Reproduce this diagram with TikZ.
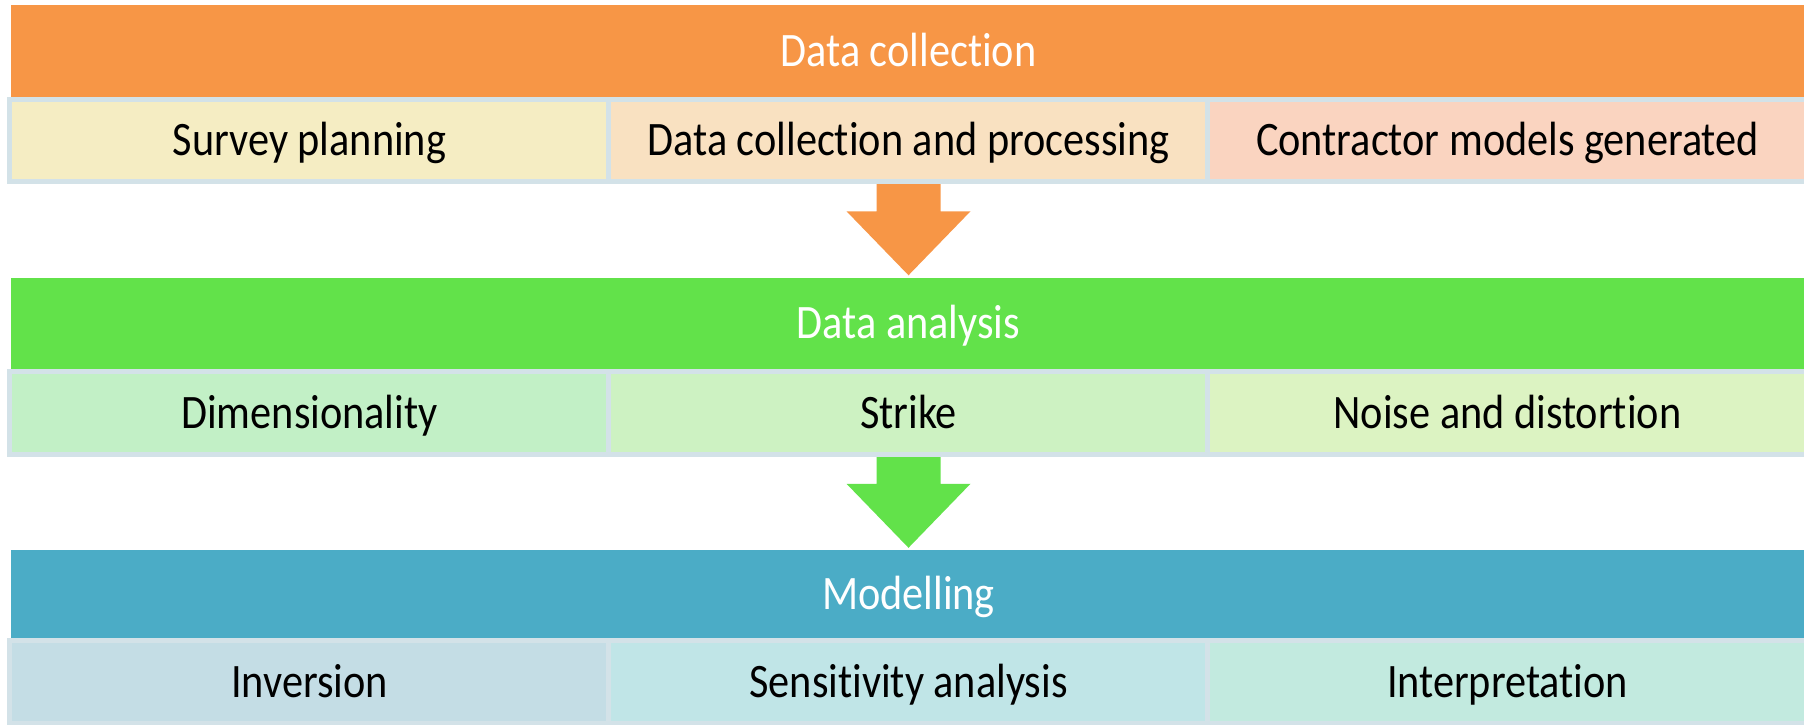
\documentclass[tikz,border=0pt]{standalone}
\usepackage{fontspec}
\setmainfont{Carlito}[FakeStretch=0.88, Ligatures=NoCommon]
\usepackage{xcolor}
\usepackage{tikz}
\usetikzlibrary{calc}
\definecolor{collectbar}{HTML}{F79646}
\definecolor{analysebar}{HTML}{62E24A}
\definecolor{modelbar}{HTML}{4BACC6}
\definecolor{celledge}{HTML}{D3E2E8}
\definecolor{planfill}{HTML}{F5EDC3}
\definecolor{procfill}{HTML}{F9E1C1}
\definecolor{contfill}{HTML}{FAD4C0}
\definecolor{dimfill}{HTML}{C2F0C6}
\definecolor{strikefill}{HTML}{CDF2C2}
\definecolor{noisefill}{HTML}{DCF3C2}
\definecolor{invfill}{HTML}{C4DDE5}
\definecolor{sensfill}{HTML}{C0E5E7}
\definecolor{interpfill}{HTML}{C2EADF}

\begin{document}
\begin{tikzpicture}[x=0.01cm, y=-0.01cm,
  label text/.style={font=\fontsize{13.66}{16}\selectfont,
    text height=0.37cm, text depth=0.07cm},
  bar/.style={label text, minimum width=17.93cm, inner sep=0pt, text=white},
  cell/.style={label text, draw=celledge, line width=0.05cm, minimum width=5.99cm,
    minimum height=0.82cm, inner sep=0pt}]
\useasboundingbox (0,0) rectangle (1804,724);

% Stage bars
\node[bar, fill=collectbar, minimum height=0.92cm] (h1) at (908.5,51) {Data collection};
\node[bar, fill=analysebar, minimum height=0.915cm] (h2) at (908.5,323.75) {Data analysis};
\node[bar, fill=modelbar, minimum height=0.88cm] (h3) at (908.5,594.5) {Modelling};

% Steps of each stage
\foreach \n/\x/\f/\t in {1/309.5/planfill/Survey planning,
    2/908.5/procfill/Data collection and processing,
    3/1507.5/contfill/Contractor models generated} {
  \node[cell, fill=\f] (c1\n) at (\x,140.5) {\t};
}
\foreach \n/\x/\f/\t in {1/309.5/dimfill/Dimensionality,
    2/908.5/strikefill/Strike,
    3/1507.5/noisefill/Noise and distortion} {
  \node[cell, fill=\f, minimum height=0.83cm] (c2\n) at (\x,413) {\t};
}
\foreach \n/\x/\f/\t in {1/309.5/invfill/Inversion,
    2/908.5/sensfill/Sensitivity analysis,
    3/1507.5/interpfill/Interpretation} {
  \node[cell, fill=\f, minimum height=0.83cm] (c3\n) at (\x,682) {\t};
}

% Block arrows between stages
\foreach \a/\b/\f in {c12/h2/collectbar, c22/h3/analysebar} {
  \fill[\f] ($(\a.south)+(-32,0)$) -- ($(\b.north)+(-32,-66)$)
    -- ($(\b.north)+(-62,-66)$) -- ($(\b.north)+(0,-2)$)
    -- ($(\b.north)+(62,-66)$) -- ($(\b.north)+(32,-66)$)
    -- ($(\a.south)+(32,0)$) -- cycle;
}
\end{tikzpicture}
\end{document}
